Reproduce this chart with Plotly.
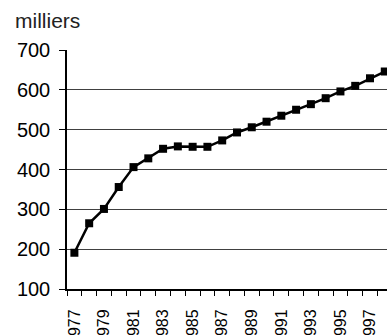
import plotly.graph_objects as go

# Effectifs annuels, en milliers
years = list(range(1977, 1999))
effectifs = [191, 265, 301, 356, 406, 428, 452, 458, 457, 457, 473,
             493, 506, 520, 535, 550, 564, 579, 596, 610, 629, 646]

tick_years = list(range(1977, 1998, 2))
tick_labels = [str(y) for y in tick_years]

title_text = "Effectifs (France métropolitaine)"
unit_text = "milliers"

W, H = 387, 335
L, R, T, B = 67, 0, 50, 46
pw, ph = W - L - R, H - T - B

fig = go.Figure()
fig.add_trace(go.Scatter(
    x=years, y=effectifs,
    mode="lines+markers",
    line=dict(color="black", width=2.5),
    marker=dict(symbol="square", size=8, color="black"),
    cliponaxis=False,
    showlegend=False,
))

font = "Liberation Sans, Arial, sans-serif"

fig.update_layout(
    width=W, height=H,
    margin=dict(l=L, r=R, t=T, b=B),
    paper_bgcolor="white", plot_bgcolor="white",
    font=dict(family=font, color="black"),
    xaxis=dict(
        range=[1976.5, 1998.15],
        tickvals=tick_years, ticktext=tick_labels,
        tickangle=-90, tickfont=dict(size=16),
        ticks="", showgrid=False, zeroline=False,
        showline=True, linecolor="black", linewidth=2,
        ticklabelstandoff=12, automargin=False,
        minor=dict(ticks="outside", tick0=1976.5, dtick=1,
                   ticklen=5, tickwidth=1, tickcolor="black", showgrid=False),
    ),
    yaxis=dict(
        range=[100, 700], dtick=100,
        tickfont=dict(size=20),
        ticks="outside", ticklen=6, tickcolor="black", tickwidth=1,
        ticklabelstandoff=5, automargin=False,
        showgrid=True, gridcolor="#404040", gridwidth=1.2,
        zeroline=False,
        showline=True, linecolor="black", linewidth=1.5,
    ),
    annotations=[
        dict(text=unit_text, xref="paper", yref="paper",
             x=(13 - L) / pw, y=(H - B - 20) / ph,
             xanchor="left", yanchor="middle", showarrow=False,
             font=dict(size=21, color="#222222")),
        dict(text="<b>" + title_text + "</b>", xref="paper", yref="paper",
             x=(381 - L) / pw, y=(H - B + 2) / ph,
             xanchor="right", yanchor="bottom", showarrow=False,
             font=dict(size=19, color="black")),
    ],
)

fig.write_html("out.html")
